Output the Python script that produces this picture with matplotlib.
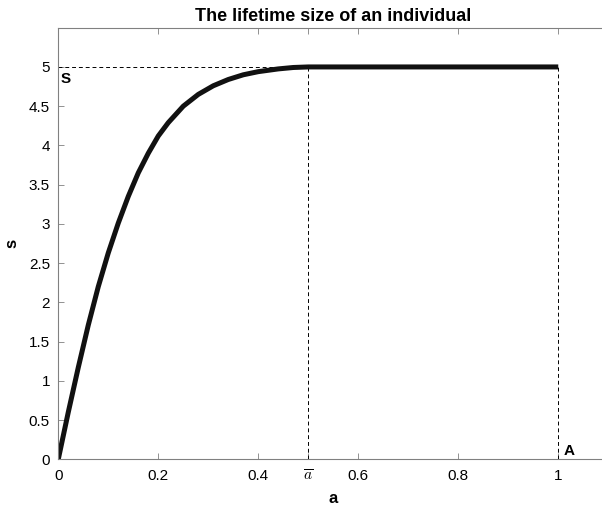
import matplotlib.pyplot as plt

plt.rcParams['font.family'] = ['Liberation Sans', 'DejaVu Sans']
plt.rcParams['mathtext.fontset'] = 'cm'

# lifetime size curve
age = [0, 0.02, 0.04, 0.06, 0.08, 0.10, 0.12, 0.14, 0.16, 0.18, 0.20, 0.22,
       0.25, 0.28, 0.31, 0.34, 0.37, 0.40, 0.44, 0.47, 0.5, 1.0]
size = [0, 0.60, 1.17, 1.71, 2.20, 2.63, 3.01, 3.35, 3.65, 3.90, 4.12, 4.29,
        4.50, 4.65, 4.76, 4.84, 4.90, 4.94, 4.975, 4.993, 5.0, 5.0]

a_bar = 0.5
A_end = 1.0
S_max = 5.0

xticks = [0, 0.2, 0.4, 0.5, 0.6, 0.8, 1]
xticklabels = ['0', '0.2', '0.4', r'$\overline{a}$', '0.6', '0.8', '1']
yticks = [0, 0.5, 1, 1.5, 2, 2.5, 3, 3.5, 4, 4.5, 5]
yticklabels = ['0', '0.5', '1', '1.5', '2', '2.5', '3', '3.5', '4', '4.5', '5']

fig = plt.figure(figsize=(6.02, 5.14), dpi=100)
ax = fig.add_axes([0.0968, 0.1064, 0.9136, 0.8397])

ax.plot([0, a_bar], [S_max, S_max], '--', color='k', lw=0.7, dashes=(4, 3))
ax.plot([a_bar, a_bar], [0, S_max], '--', color='k', lw=0.7, dashes=(4, 3))
ax.plot([A_end, A_end], [0, S_max], '--', color='k', lw=0.7, dashes=(4, 3))
ax.plot(age, size, color='#111111', lw=3.6, solid_capstyle='butt', solid_joinstyle='round')

ax.text(0.004, 4.93, 'S', fontsize=11, fontweight='bold', va='top', ha='left')
ax.text(1.01, 0.02, 'A', fontsize=11, fontweight='bold', va='bottom', ha='left')

ax.set_xlim(0, 1.1)
ax.set_ylim(0, 5.5)
ax.set_xticks(xticks)
ax.set_xticklabels(xticklabels)
ax.set_yticks(yticks)
ax.set_yticklabels(yticklabels)
ax.tick_params(direction='in', length=4, width=0.6, color='#808080',
               labelsize=11, top=True, right=True)
ax.tick_params(axis='x', pad=7)
ax.tick_params(axis='y', pad=6)
for sp in ax.spines.values():
    sp.set_color('#808080')
    sp.set_linewidth(0.8)

ax.set_title('The lifetime size of an individual', fontsize=13, fontweight='bold', pad=5)
ax.set_xlabel('a', fontsize=12, fontweight='bold', labelpad=5)
ax.set_ylabel('s', fontsize=12, fontweight='bold', labelpad=7)

fig.savefig('out.png', dpi=100)
